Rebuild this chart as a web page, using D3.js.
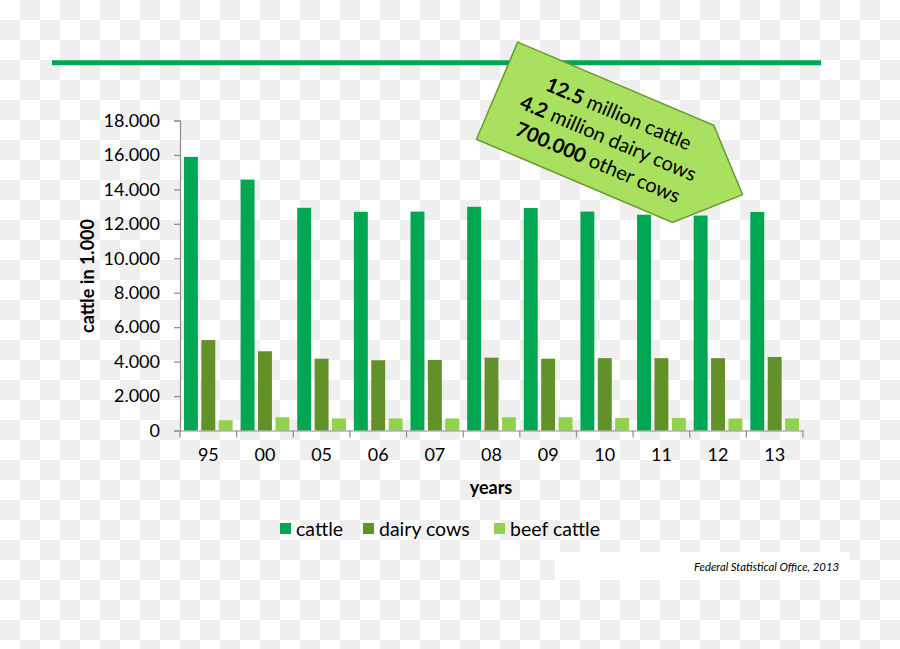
<!DOCTYPE html>
<html>
<head>
<meta charset="utf-8">
<script src="https://cdn.jsdelivr.net/npm/d3@7"></script>
<style>
  html, body { margin: 0; padding: 0; background: #fff; }
  svg { display: block; }
  text { font-family: Lato, "Open Sans", sans-serif; fill: #000; }
</style>
</head>
<body>
<svg id="chart" width="900" height="649"></svg>
<script>
// ---- data ----
const years = ["95", "00", "05", "06", "07", "08", "09", "10", "11", "12", "13"];
const seriesNames = ["cattle", "dairy cows", "beef cattle"];
const cattle = [15890, 14570, 12930, 12700, 12710, 12990, 12920, 12710, 12530, 12480, 12690];
const dairyCows = [5250, 4600, 4170, 4080, 4100, 4230, 4170, 4200, 4200, 4200, 4270];
const beefCattle = [600, 770, 700, 700, 700, 770, 770, 730, 730, 700, 700];
const yTicks = [0, 2000, 4000, 6000, 8000, 10000, 12000, 14000, 16000, 18000];
const yTickLabels = ["0", "2.000", "4.000", "6.000", "8.000", "10.000", "12.000", "14.000", "16.000", "18.000"];
const calloutLines = [["12.5", " million cattle"], ["4.2", " million dairy cows"], ["700.000", " other cows"]];
const sourceText = "Federal Statistical Office, 2013";

const colors = ["#00a651", "#62912a", "#92d050"];
const seriesValues = [cattle, dairyCows, beefCattle];

const svg = d3.select("#chart");
const W = 900, H = 649;

// checkerboard background
const cell = 20;
const cells = [];
for (let j = 0; j < Math.ceil(H / cell); j++)
  for (let i = 0; i < Math.ceil(W / cell); i++)
    if ((i + j) % 2 === 1) cells.push([i, j]);
svg.append("rect").attr("width", W).attr("height", H).attr("fill", "#ffffff");
svg.append("g").selectAll("rect").data(cells).join("rect")
  .attr("x", d => d[0] * cell).attr("y", d => d[1] * cell)
  .attr("width", cell).attr("height", cell).attr("fill", "#efefef");

// top rule
svg.append("line").attr("x1", 52).attr("x2", 821).attr("y1", 62.7).attr("y2", 62.7)
  .attr("stroke", "#00a651").attr("stroke-width", 5);

// scales
const x0 = d3.scaleBand().domain(years).range([180, 803]).paddingInner(0.14).paddingOuter(0.07);
const x1 = d3.scaleBand().domain(seriesNames).range([0, x0.bandwidth()]).paddingInner(0.2);
const y = d3.scaleLinear().domain([0, 18000]).range([430.5, 120.5]);

// bars
const groups = svg.append("g").selectAll("g").data(years).join("g")
  .attr("transform", d => `translate(${x0(d)},0)`);
groups.selectAll("rect")
  .data((d, i) => seriesNames.map((s, k) => ({ s, v: seriesValues[k][i], k })))
  .join("rect")
  .attr("x", d => x1(d.s))
  .attr("width", x1.bandwidth())
  .attr("y", d => y(d.v))
  .attr("height", d => y(0) - y(d.v))
  .attr("fill", d => colors[d.k]);

// y axis
const yAxis = d3.axisLeft(y).tickValues(yTicks)
  .tickFormat((d, i) => yTickLabels[i]).tickSize(6).tickPadding(14);
const gy = svg.append("g").attr("transform", "translate(180,0)").call(yAxis);
gy.select(".domain").attr("stroke", "#8c8c8c").attr("stroke-width", 1.2);
gy.selectAll(".tick line").attr("stroke", "#8c8c8c").attr("stroke-width", 1.2);
gy.selectAll(".tick text").attr("font-size", 18).attr("fill", "#000")
  .style("font-family", "Lato, sans-serif");

// x axis (labels)
const xAxis = d3.axisBottom(x0).tickSize(0).tickPadding(18);
const gx = svg.append("g").attr("transform", `translate(0,${y(0)})`).call(xAxis);
gx.select(".domain").attr("stroke", "#8c8c8c").attr("stroke-width", 1.2);
gx.selectAll(".tick text").attr("font-size", 18).attr("fill", "#000")
  .style("font-family", "Lato, sans-serif");
// category boundary ticks
const halfGap = x0.step() * 0.07;
const bounds = years.map(d => x0(d) - halfGap).concat([x0(years[years.length - 1]) + x0.bandwidth() + halfGap]);
gx.append("g").selectAll("line").data(bounds).join("line")
  .attr("x1", d => d).attr("x2", d => d).attr("y1", 0).attr("y2", 7)
  .attr("stroke", "#8c8c8c").attr("stroke-width", 1.2);

// axis titles
svg.append("text").attr("x", 491).attr("y", 494).attr("text-anchor", "middle")
  .attr("font-size", 18).attr("font-weight", "bold").text("years");
svg.append("text").attr("transform", "translate(94,276) rotate(-90)")
  .attr("text-anchor", "middle").attr("font-size", 18).attr("font-weight", "bold")
  .text("cattle in 1.000");

// legend
const legendX = [280, 363, 494];
const lg = svg.append("g").selectAll("g").data(seriesNames).join("g")
  .attr("transform", (d, i) => `translate(${legendX[i]},0)`);
lg.append("rect").attr("x", 0).attr("y", 523).attr("width", 11).attr("height", 11)
  .attr("fill", (d, i) => colors[i]);
lg.append("text").attr("x", 16).attr("y", 536).attr("font-size", 19.5).text(d => d);

// source box
svg.append("rect").attr("x", 555).attr("y", 552).attr("width", 295).attr("height", 28)
  .attr("fill", "#ffffff");
svg.append("text").attr("x", 839).attr("y", 571).attr("text-anchor", "end")
  .attr("font-size", 11.3).attr("font-style", "italic").text(sourceText);

// callout arrow (rotated)
const cg = svg.append("g").attr("transform", "rotate(23)");
const poly = [[493, -163.5], [706, -163.5], [759.5, -111], [706, -58], [493, -58]];
cg.append("path").attr("d", d3.line()(poly) + "Z")
  .attr("fill", "#a9e05f").attr("stroke", "#6a9a2e").attr("stroke-width", 1.5);
const tl = cg.selectAll("text.c").data(calloutLines).join("text")
  .attr("class", "c")
  .attr("x", 614).attr("y", (d, i) => -130 + i * 26.5)
  .attr("text-anchor", "middle").attr("font-size", 20);
tl.append("tspan").attr("font-weight", "bold").text(d => d[0]);
tl.append("tspan").text(d => d[1]);
</script>
</body>
</html>
